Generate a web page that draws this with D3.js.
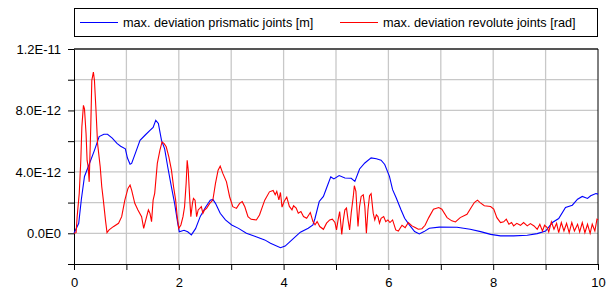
<!DOCTYPE html>
<html>
<head>
<meta charset="utf-8">
<script src="https://cdn.jsdelivr.net/npm/d3@7"></script>
<style>
body { margin: 0; background: #fff; }
text { font-family: Arial, "Liberation Sans", sans-serif; }
</style>
</head>
<body>
<svg></svg>
<script>
// values in units of 1e-12
let unit = 1e-12;

let prisX = [0,0.09,0.14,0.2,0.29,0.39,0.48,0.57,0.64,0.73,0.82,0.89,0.98,1.02,1.07,1.1,1.17,1.26,1.36,1.45,1.51,1.56,1.61,1.67,1.73,1.79,1.86,1.92,1.98,2.01,2.1,2.17,2.24,2.32,2.41,2.51,2.6,2.65,2.7,2.79,2.89,3.01,3.14,3.29,3.45,3.64,3.75,3.94,4.03,4.19,4.32,4.47,4.56,4.6,4.68,4.76,4.82,4.9,4.96,5.06,5.17,5.29,5.36,5.45,5.55,5.67,5.77,5.86,5.93,6.02,6.08,6.15,6.24,6.31,6.4,6.5,6.59,6.68,6.78,6.97,7.31,7.56,7.76,7.95,8.14,8.39,8.65,8.84,9.0,9.13,9.25,9.38,9.51,9.61,9.7,9.8,9.86,9.96,10];
let prisY = [0,0.65,2.2,3.7,4.5,5.4,6.3,6.45,6.45,6.2,5.85,5.67,5.5,4.9,4.5,4.55,5.2,6.05,6.4,6.7,6.9,7.35,7.15,6.05,5.5,4.3,3.0,1.95,0.65,0.1,0.2,0.1,-0.1,0.3,1.1,1.7,2.15,2.2,1.95,1.3,0.87,0.54,0.32,0,-0.2,-0.43,-0.65,-0.94,-0.83,-0.33,0.07,0.33,0.55,0.98,2.07,2.4,2.95,3.67,3.54,3.76,3.6,3.58,3.38,4.19,4.58,4.91,4.85,4.76,4.48,3.71,2.84,2.3,1.53,0.98,0.55,0.11,-0.04,0.11,0.33,0.4,0.39,0.26,0.11,-0.07,-0.17,-0.17,-0.13,-0.02,0.15,0.7,0.96,1.68,1.83,2.22,2.4,2.27,2.44,2.59,2.55];

let revX = [0,0.04,0.06,0.1,0.13,0.15,0.18,0.2,0.23,0.25,0.27,0.29,0.32,0.34,0.37,0.39,0.42,0.45,0.5,0.53,0.56,0.6,0.63,0.67,0.75,0.85,0.91,0.97,1.03,1.07,1.1,1.16,1.22,1.29,1.33,1.37,1.42,1.45,1.48,1.51,1.54,1.59,1.64,1.68,1.72,1.76,1.81,1.86,1.9,1.94,1.97,2.0,2.04,2.08,2.11,2.14,2.16,2.18,2.21,2.23,2.26,2.28,2.31,2.34,2.37,2.4,2.43,2.46,2.49,2.53,2.59,2.65,2.7,2.75,2.79,2.84,2.91,2.97,3.03,3.1,3.16,3.21,3.26,3.32,3.38,3.48,3.54,3.64,3.73,3.8,3.84,3.87,3.91,3.94,3.97,4.01,4.06,4.11,4.16,4.19,4.24,4.28,4.33,4.38,4.44,4.51,4.56,4.6,4.64,4.69,4.76,4.82,4.88,4.93,4.98,5.01,5.04,5.07,5.11,5.14,5.17,5.2,5.23,5.26,5.29,5.33,5.35,5.38,5.4,5.42,5.45,5.48,5.52,5.55,5.58,5.61,5.64,5.67,5.71,5.74,5.77,5.8,5.83,5.86,5.91,5.95,5.99,6.03,6.08,6.14,6.19,6.26,6.32,6.38,6.45,6.51,6.57,6.64,6.7,6.77,6.86,6.96,7.02,7.12,7.21,7.28,7.37,7.5,7.58,7.64,7.7,7.75,7.83,7.95,8.01,8.07,8.14,8.2,8.25,8.3,8.35,8.39,8.45,8.52,8.58,8.65,8.71,8.78,8.84,8.89,8.94,8.98,9.03,9.06,9.11,9.16,9.21,9.25,9.3,9.35,9.4,9.45,9.5,9.55,9.61,9.65,9.7,9.75,9.8,9.85,9.89,9.94,9.98,10];
let revY = [0,0.04,1.08,2.6,4.76,6.93,8.33,8.1,6.5,4.76,4.33,3.35,6.93,9.96,10.5,9.96,8.0,5.84,4.33,3.03,2.16,0.87,0.04,0.22,0.43,0.65,1.08,2.16,2.92,3.14,2.81,1.95,1.52,1.08,0.32,0.87,1.52,1.3,0.76,2.16,2.6,4.55,5.41,5.95,5.84,5.63,4.98,4.11,3.03,2.16,1.08,0.32,0.54,1.08,1.73,3.25,4.76,4.11,2.16,1.08,1.95,2.27,2.16,1.08,1.52,1.62,1.73,1.3,1.52,1.62,1.95,2.16,3.25,4.11,4.37,3.9,3.35,2.38,1.73,1.62,1.95,2.06,1.73,1.08,0.91,0.87,1.19,2.16,2.7,2.79,2.51,2.73,2.18,2.66,1.7,2.07,2.36,1.75,1.53,1.79,1.64,1.31,1.42,1.09,0.98,1.35,0.76,0.55,0.76,0.44,0.26,0.66,0.87,0.92,0.7,0.22,0.87,1.42,-0.07,0.87,1.53,1.64,0.87,0.22,1.31,2.4,3.1,2.73,1.53,0.44,1.75,2.4,2.51,1.75,0,1.53,2.45,2.58,1.31,0.87,1.2,1.09,0.66,0.98,1.09,0.76,0.87,0.7,0.87,0.22,0.15,0.52,0.37,0.7,0.48,0.37,0.26,0.3,0.52,1.02,1.57,1.68,1.57,1.02,0.81,0.74,1.02,1.24,1.68,2.0,2.16,2.0,1.79,1.74,1.57,1.02,0.7,0.75,0.92,0.59,0.7,0.48,0.65,0.52,0.7,0.48,0.63,0.48,0.26,0.59,0.15,0.52,0.37,0.09,0.74,0.26,0.65,0.04,0.7,0.15,0.65,0.04,0.7,0.15,0.59,0.09,0.7,0.04,0.59,0,0.59,0.15,0.92,0.87];

let legendLabels = ["max. deviation prismatic joints [m]", "max. deviation revolute joints [rad]"];
let colors = ["#0000ff", "#ff0000"];

let width = 608, height = 291;
let marginLeft = 74, marginTop = 49;
let plotW = 524, plotH = 215;

let svg = d3.select("svg").attr("width", width).attr("height", height);

let scaleX = d3.scaleLinear().domain([0, 10]).range([0, plotW]);
let scaleY = d3.scaleLinear().domain([-2e-12, 1.2e-11]).range([plotH, 0]);

let g = svg.append("g").attr("transform", `translate(${marginLeft}, ${marginTop})`);

// сетка
g.selectAll(".vgrid")
    .data(d3.range(1, 10))
    .enter().append("line")
    .attr("x1", d => scaleX(d)).attr("x2", d => scaleX(d))
    .attr("y1", 0).attr("y2", plotH)
    .attr("stroke", "#c8c8c8").attr("stroke-width", 1.3);
g.selectAll(".hgrid")
    .data(d3.range(0, 12, 2).map(d => d * unit))
    .enter().append("line")
    .attr("x1", 0).attr("x2", plotW)
    .attr("y1", d => scaleY(d)).attr("y2", d => scaleY(d))
    .attr("stroke", "#c8c8c8").attr("stroke-width", 1.3);

// top and right border
g.append("line").attr("x1", 0).attr("x2", plotW).attr("y1", 0).attr("y2", 0)
    .attr("stroke", "#555").attr("stroke-width", 2);
g.append("line").attr("x1", plotW).attr("x2", plotW).attr("y1", 0).attr("y2", plotH)
    .attr("stroke", "#000").attr("stroke-width", 1);

let fmt = function(d) {
    return d3.format(".1e")(d).toUpperCase().replace("+", "");
};

// оси
let axisX = d3.axisBottom(scaleX).tickValues(d3.range(0, 11)).tickSize(6).tickSizeOuter(0)
    .tickFormat(d => d % 2 === 0 ? d : "");
let axisY = d3.axisLeft(scaleY).tickValues(d3.range(-2, 13, 2).map(d => d * unit)).tickSize(6).tickSizeOuter(0)
    .tickFormat(d => (Math.round(d / unit) % 4 === 0 && d >= 0) ? fmt(d) : "");

g.append("g")
    .attr("transform", `translate(0, ${plotH})`)
    .call(axisX)
    .call(a => a.selectAll("text").attr("font-size", 13).attr("fill", "#000").attr("dy", "1.05em"));
g.append("g")
    .call(axisY)
    .call(a => a.selectAll("text").attr("font-size", 13).attr("fill", "#000").attr("x", -13));

g.selectAll(".domain, .tick line").attr("stroke", "#000");

// линии
let line = d3.line()
    .x(d => scaleX(d[0]))
    .y(d => scaleY(d[1] * unit));

g.append("path")
    .datum(prisX.map((x, i) => [x, prisY[i]]))
    .attr("fill", "none").attr("stroke", colors[0]).attr("stroke-width", 1.1)
    .attr("d", line);
g.append("path")
    .datum(revX.map((x, i) => [x, revY[i]]))
    .attr("fill", "none").attr("stroke", colors[1]).attr("stroke-width", 1.1)
    .attr("d", line);

// легенда
let legend = svg.append("g");
legend.append("rect")
    .attr("x", 74.5).attr("y", 8.5).attr("width", 523).attr("height", 28)
    .attr("fill", "#fff").attr("stroke", "#000");
let legendPos = [80, 340];
legendLabels.forEach(function(label, i) {
    legend.append("line")
        .attr("x1", legendPos[i]).attr("x2", legendPos[i] + 38)
        .attr("y1", 22.5).attr("y2", 22.5)
        .attr("stroke", colors[i]).attr("stroke-width", 1.2);
    legend.append("text")
        .attr("x", legendPos[i] + 43).attr("y", 27)
        .attr("font-size", 12.7)
        .text(label);
});
</script>
</body>
</html>
